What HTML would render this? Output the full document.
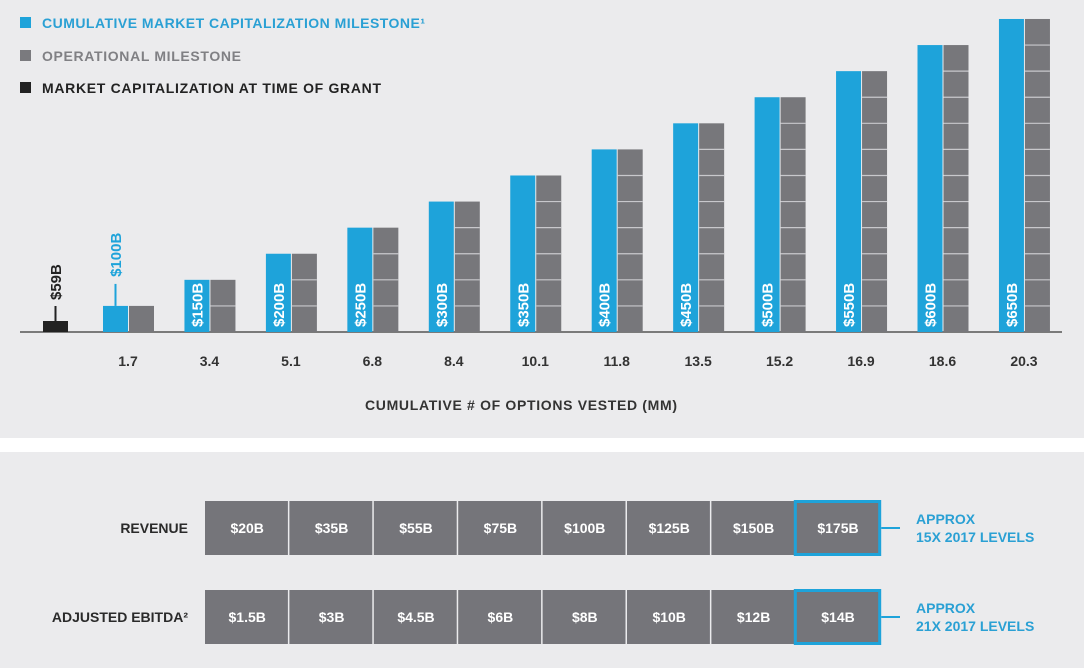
<!DOCTYPE html>
<html><head><meta charset="utf-8"><style>
html,body{margin:0;padding:0;background:#fff}
svg{display:block}
text{font-family:"Liberation Sans","Noto Sans CJK SC",sans-serif;font-weight:bold}
</style></head><body>
<svg id="c" width="1084" height="668" xmlns="http://www.w3.org/2000/svg">
<rect x="0" y="0" width="1084" height="438" fill="#ebebed"/>
<rect x="0" y="452" width="1084" height="216" fill="#ebebed"/>
<g>
<rect x="20" y="17" width="11" height="11" fill="#1ea3da"/>
<text x="42" y="28" font-size="14" fill="#2aa0d4" textLength="383">CUMULATIVE MARKET CAPITALIZATION MILESTONE¹</text>
<rect x="20" y="50" width="11" height="11" fill="#7a7a7e"/>
<text x="42" y="61" font-size="14" fill="#808084" textLength="199">OPERATIONAL MILESTONE</text>
<rect x="20" y="82" width="11" height="11" fill="#222"/>
<text x="42" y="93" font-size="14" fill="#222" textLength="339">MARKET CAPITALIZATION AT TIME OF GRANT</text>
</g>
<line x1="20" y1="332" x2="1062" y2="332" stroke="#555" stroke-width="1.5"/>
<text x="521" y="410" font-size="14" fill="#333" text-anchor="middle" textLength="312">CUMULATIVE # OF OPTIONS VESTED (MM)</text>
<g id="bars"></g>
<g id="table"></g>
</svg>
<script>
const options = ["1.7","3.4","5.1","6.8","8.4","10.1","11.8","13.5","15.2","16.9","18.6","20.3"];
const marketCap = [100,150,200,250,300,350,400,450,500,550,600,650];
const grantCap = 59;
const revenue = ["$20B","$35B","$55B","$75B","$100B","$125B","$150B","$175B"];
const ebitda = ["$1.5B","$3B","$4.5B","$6B","$8B","$10B","$12B","$14B"];
const NS="http://www.w3.org/2000/svg";
function mk(tag,attrs,parent,txt){const e=document.createElementNS(NS,tag);for(const k in attrs)e.setAttribute(k,attrs[k]);if(txt!==undefined)e.textContent=txt;parent.appendChild(e);return e;}
const base=332;
const xCenter=i=>128+i*81.45;
const yScale=v=>base-(v-50)*0.5217;
const bars=document.getElementById('bars');
{
 const top=Math.min(yScale(grantCap),base-11);
 const r=mk('rect',{x:43,y:top,width:25,height:base-top,fill:'#222'},bars);
 
 
 const l=mk('line',{x1:55.5,y1:top,x2:55.5,y2:top-15,stroke:'#222','stroke-width':2},bars);
 
 
 const t=mk('text',{x:0,y:0,'font-size':15,fill:'#222',transform:`translate(61,${top-21}) rotate(-90)`},bars,'$'+grantCap+'B');
 
 
}
marketCap.forEach((v,i)=>{
 const cx=xCenter(i);
 const top=yScale(v);
 const b=mk('rect',{x:cx-25,y:top,width:25,height:base-top,fill:'#1ea3da'},bars);
 
 
 const g=mk('rect',{x:cx+1,y:top,width:25,height:base-top,fill:'#77777b'},bars);
 
 
 const segs=Math.round((base-top)/26.1);
 for(let s=1;s<segs;s++){
  const y=base-(base-top)*s/segs;
  const ln=mk('line',{x1:cx+1,y1:y,x2:cx+26,y2:y,stroke:'#c8c8cc','stroke-width':1.2},bars);
  
  
 }
 if(i===0){
  const st=mk('line',{x1:cx-12.5,y1:top,x2:cx-12.5,y2:top-22,stroke:'#1ea3da','stroke-width':2},bars);
  
  
  const t=mk('text',{x:0,y:0,'font-size':15,fill:'#1ea3da',transform:`translate(${cx-7},${top-29}) rotate(-90)`},bars,'$'+v+'B');
  
  
 } else {
  const t=mk('text',{x:0,y:0,'font-size':15,fill:'#fff',transform:`translate(${cx-7},${base-5}) rotate(-90)`},bars,'$'+v+'B');
  
  
 }
 const xl=mk('text',{x:cx,y:366,'font-size':14,fill:'#333','text-anchor':'middle'},bars,options[i]);
 
 
});
const tbl=document.getElementById('table');
const cellW=84.4, x0=205;
function row(vals,y,label,name,note){
 const lt=mk('text',{x:188,y:y+32,'font-size':14,fill:'#2a2a2a','text-anchor':'end'},tbl,label);
 
 
 vals.forEach((v,i)=>{
  const x=x0+i*cellW;
  const r=mk('rect',{x:x,y:y,width:cellW-1.5,height:54,fill:'#75757a'},tbl);
  
  
  const t=mk('text',{x:x+cellW/2,y:y+32,'font-size':14,fill:'#fff','text-anchor':'middle'},tbl,v);
  
  
 });
 const lx=x0+(vals.length-1)*cellW;
 const hb=mk('rect',{x:lx-0.5,y:y+0.5,width:cellW,height:53,fill:'none',stroke:'#1ea3da','stroke-width':3},tbl);
 
 
 const cl=mk('line',{x1:lx+cellW+1,y1:y+27,x2:900,y2:y+27,stroke:'#1ea3da','stroke-width':2},tbl);
 
 
 const n1=mk('text',{x:916,y:y+23,'font-size':14,fill:'#2aa0d4'},tbl,'APPROX');
 
 
 const n2=mk('text',{x:916,y:y+41,'font-size':14,fill:'#2aa0d4'},tbl,note);
 
 
}
row(revenue,501,'REVENUE','revenue','15X 2017 LEVELS');
row(ebitda,590,'ADJUSTED EBITDA²','ebitda','21X 2017 LEVELS');
</script>
</body></html>
